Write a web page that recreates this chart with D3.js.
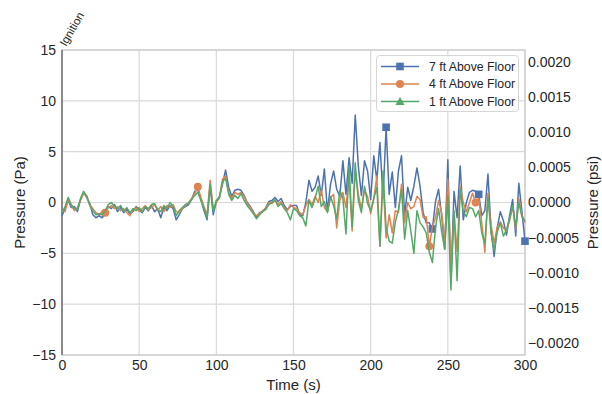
<!DOCTYPE html>
<html>
<head>
<meta charset="utf-8">
<script src="https://cdn.jsdelivr.net/npm/d3@7"></script>
<style>
  html, body { margin: 0; padding: 0; background: #fff; }
  svg text { font-family: "Liberation Sans", Arial, sans-serif; fill: #262626; }
</style>
</head>
<body>
<svg id="chart" width="602" height="394"></svg>
<script>
// Pressure records, sampled every 2 s from ignition (t = 0) to 300 s
const sampleStep = 2;

const seriesNames = ["7 ft Above Floor", "4 ft Above Floor", "1 ft Above Floor"];
const seriesColors = ["#4C72B0", "#DD8452", "#55A868"];
const seriesMarkers = ["square", "circle", "triangle"];
// times (s) of the samples that carry a marker, per series
const markerTimes7ft = [210, 240, 270, 300];
const markerTimes4ft = [28, 88, 238, 268];
const markerTimes1ft = [];

const pa7ft = [
  -1.3, -0.6, 0.2, -0.5, -0.4, -0.9, 0.3, 1.0, 0.5, -0.1,
  -1.2, -1.5, -1.3, -1.5, -1.1, -0.4, -0.6, -0.2, -0.9, -0.5,
  -1.0, -0.7, -1.1, -0.9, -0.4, -0.7, -1.0, -0.5, -0.8, -0.3,
  -0.9, -0.6, -1.5, -0.5, -0.8, -0.3, -0.6, -1.7, -1.2, -0.6,
  -0.4, -0.2, 0.3, 1.1, 1.3, 0.3, -0.8, -1.7, 1.6, -1.2,
  0.1, 0.6, 1.8, 3.2, 1.5, 0.6, 1.2, 1.3, 1.2, 0.7,
  0.0, -0.4, -0.9, -1.5, -1.0, -0.9, -0.5, 0.1, 0.2, 0.5,
  0.1, 0.4, -0.3, -0.7, -0.4, -0.3, -0.3, -1.2, -1.3, 0.0,
  2.2, 1.1, 1.5, 2.6, 0.7, 3.3, -0.9, 1.8, 3.1, 1.3,
  0.6, 4.1, 0.8, 4.4, 1.9, 8.6, 3.6, 0.7, 4.1, 3.1,
  0.3, 4.6, 2.2, 5.9, 0.4, 7.4, 0.8, 3.0, -0.5, 3.1,
  4.6, -1.3, 1.5, 0.2, 1.6, 3.4, 1.6, -1.0, -2.0, -2.0,
  -2.6, 0.1, 1.3, -1.3, -4.6, 4.2, -7.9, 1.1, -1.5, 3.6,
  -1.7, 0.0, 1.0, 1.2, 1.1, 0.8, -1.3, -0.8, 2.8, -2.7,
  -5.3, -2.5, -0.9, -1.8, -3.2, -1.3, 0.3, -3.3, 1.9, -0.9,
  -3.8
];

const pa4ft = [
  -0.8, -0.9, 0.3, -0.3, -0.8, -0.5, 0.2, 0.9, 0.7, -0.2,
  -0.6, -1.0, -1.2, -0.9, -1.0, -0.5, -0.3, -0.6, -0.4, -0.8,
  -0.6, -1.0, -1.3, -0.7, -0.5, -0.9, -0.6, -0.3, -0.7, -0.5,
  -0.2, -0.8, -0.4, -0.9, -0.3, -0.5, -0.2, -0.9, -1.0, -0.6,
  -0.3, 0.0, 0.4, 0.9, 1.55, 0.5, -0.4, -1.2, 2.2, -0.6,
  0.0, 0.5, 2.3, 2.6, 1.0, 0.4, 1.0, 0.8, 1.0, 0.6,
  -0.1, -0.5, -1.0, -1.3, -1.1, -0.8, -0.6, 0.0, -0.1, 0.2,
  -0.2, 0.1, -0.5, -0.8, -0.2, -0.5, -0.6, -1.0, -1.2, -0.3,
  0.3, -0.2, 0.6, 0.0, 1.2, -0.5, -0.9, 0.5, 0.8, -2.5,
  0.2, 1.0, -0.5, 2.5, -2.8, 3.0, 0.8, -0.6, 1.2, 0.6,
  -1.1, 0.3, 2.6, -4.3, 2.2, -3.5, -1.2, -3.0, -0.8, -1.0,
  1.8, -2.0, 0.0, -0.6, -0.4, 0.6, 0.3, -1.5, -1.4, -4.3,
  -2.4, -1.5, 0.2, -1.0, -3.8, 2.3, -6.5, -1.0, -4.8, 1.6,
  0.0, -0.9, 0.0, 0.9, 0.0, 0.4, -2.0, -4.9, 0.9, -2.2,
  -4.0, -2.4, -1.9, -2.5, -2.8, -1.8, -0.4, -2.6, 0.4, -1.2,
  -2.0
];

const pa1ft = [
  -1.0, -0.4, 0.5, -0.2, -0.6, -0.7, 0.4, 1.1, 0.6, -0.3,
  -0.8, -1.2, -1.1, -1.2, -0.8, -0.2, 0.0, -0.4, -0.6, -0.3,
  -0.9, -0.5, -1.0, -0.6, -0.8, -0.5, -0.9, -0.4, -0.6, -0.2,
  -0.1, -0.7, -0.9, -0.3, -0.6, 0.0, -0.4, -1.3, -0.8, -0.5,
  -0.2, -0.1, 0.3, 0.7, 1.0, 0.2, -0.6, -1.5, 1.8, -0.9,
  0.2, 0.4, 2.0, 2.4, 0.8, 0.2, 0.7, 0.4, 0.9, 0.2,
  -0.3, -0.7, -1.1, -1.6, -1.2, -0.9, -0.7, -0.2, 0.0, 0.3,
  -0.4, -0.1, -0.6, -1.0, -1.7, -0.6, -0.8, -1.3, -1.5, -2.3,
  0.2, -0.5, 0.4, 1.6, -0.4, 0.1, -1.0, 0.6, -0.3, -1.6,
  1.2, 0.4, -3.1, 3.6, -2.4, 3.9, 0.2, -1.0, 1.6, -0.1,
  -0.8, 0.4, 1.5, -4.3, 3.1, -2.5, -3.8, -4.0, -1.9, -0.7,
  1.3, -3.6, -0.8, -2.8, -5.0, -0.8, -2.0, -2.4, -3.0, -4.9,
  -5.9, -2.5, -0.6, -2.9, -4.6, 0.6, -8.6, -0.8, -7.7, 1.3,
  -0.9, -1.4, -0.5, -0.6, -1.4, -0.8, -3.0, -4.0, 0.5, -3.0,
  -4.7, -2.9, -2.0, -3.3, -2.7, -1.6, -0.3, -2.4, 0.0, -1.4,
  -1.8
];

const xTicks = [0, 50, 100, 150, 200, 250, 300];
const yTicks = [-15, -10, -5, 0, 5, 10, 15];
const psiTicks = [-0.002, -0.0015, -0.001, -0.0005, 0, 0.0005, 0.001, 0.0015, 0.002];
const paToPsi = 0.000145038;

const seriesValues = [pa7ft, pa4ft, pa1ft];
const seriesMarkerTimes = [markerTimes7ft, markerTimes4ft, markerTimes1ft];

// ---- layout
const svg = d3.select("#chart");
const plotLeft = 62, plotRight = 525, plotTop = 50, plotBottom = 355;

const x = d3.scaleLinear().domain([0, 300]).range([plotLeft, plotRight]);
const y = d3.scaleLinear().domain([-15, 15]).range([plotBottom, plotTop]);
const yPsi = d3.scaleLinear().domain([-15 * paToPsi, 15 * paToPsi]).range([plotBottom, plotTop]);

// ---- grid
const grid = svg.append("g");
grid.selectAll("line.gx").data(xTicks).join("line")
  .attr("x1", d => x(d)).attr("x2", d => x(d))
  .attr("y1", plotTop).attr("y2", plotBottom)
  .attr("stroke", "#d9d9d9").attr("stroke-width", 1.2);
grid.selectAll("line.gy").data(yTicks).join("line")
  .attr("x1", plotLeft).attr("x2", plotRight)
  .attr("y1", d => y(d)).attr("y2", d => y(d))
  .attr("stroke", "#d9d9d9").attr("stroke-width", 1.2);

// frame
svg.append("rect")
  .attr("x", plotLeft).attr("y", plotTop)
  .attr("width", plotRight - plotLeft).attr("height", plotBottom - plotTop)
  .attr("fill", "none").attr("stroke", "#cccccc").attr("stroke-width", 1.3);

// ---- axes (no tick marks, labels only)
const styleTicks = g => g.selectAll("text").attr("font-size", 14).attr("fill", "#262626")
  .style("font-family", "Liberation Sans, Arial, sans-serif");

const xAxis = d3.axisBottom(x).tickValues(xTicks).tickSize(0).tickPadding(5);
svg.append("g").attr("transform", `translate(0,${plotBottom})`).call(xAxis)
  .call(g => g.select(".domain").remove())
  .call(styleTicks);

const yAxis = d3.axisLeft(y).tickValues(yTicks).tickSize(0).tickPadding(6).tickFormat(d3.format(""));
svg.append("g").attr("transform", `translate(${plotLeft},0)`).call(yAxis)
  .call(g => g.select(".domain").remove())
  .call(styleTicks);

const yAxisRight = d3.axisRight(yPsi).tickValues(psiTicks).tickSize(0).tickPadding(3)
  .tickFormat(d3.format(".4f"));
svg.append("g").attr("transform", `translate(${plotRight},0)`).call(yAxisRight)
  .call(g => g.select(".domain").remove())
  .call(styleTicks);

// axis titles
svg.append("text").attr("x", (plotLeft + plotRight) / 2).attr("y", 390)
  .attr("text-anchor", "middle").attr("font-size", 15).text("Time (s)");
svg.append("text")
  .attr("transform", `translate(25,${(plotTop + plotBottom) / 2}) rotate(-90)`)
  .attr("text-anchor", "middle").attr("font-size", 15).text("Pressure (Pa)");
svg.append("text")
  .attr("transform", `translate(598,${(plotTop + plotBottom) / 2}) rotate(-90)`)
  .attr("text-anchor", "middle").attr("font-size", 15).text("Pressure (psi)");

// ---- ignition marker
svg.append("line")
  .attr("x1", x(0)).attr("x2", x(0)).attr("y1", plotTop).attr("y2", plotBottom)
  .attr("stroke", "#8a8a8a").attr("stroke-width", 2);
svg.append("text")
  .attr("transform", `translate(${x(0) + 4},${plotTop - 3}) rotate(-60)`)
  .attr("font-size", 11.5).text("Ignition");

// ---- series
function drawMarker(g, kind, cx, cy, color) {
  if (kind === "square") {
    g.append("rect").attr("x", cx - 3.8).attr("y", cy - 3.8)
      .attr("width", 7.6).attr("height", 7.6).attr("fill", color);
  } else if (kind === "circle") {
    g.append("circle").attr("cx", cx).attr("cy", cy).attr("r", 4).attr("fill", color);
  } else {
    const s = 4.6;
    g.append("path")
      .attr("d", `M${cx},${cy - s} L${cx + s},${cy + s * 0.75} L${cx - s},${cy + s * 0.75} Z`)
      .attr("fill", color);
  }
}

const line = d3.line().x(d => x(d.t)).y(d => y(d.v));

seriesValues.forEach((vals, k) => {
  const pts = vals.map((v, i) => ({ t: i * sampleStep, v }));
  const g = svg.append("g");
  g.append("path").datum(pts).attr("d", line)
    .attr("fill", "none").attr("stroke", seriesColors[k])
    .attr("stroke-width", 1.5).attr("stroke-linejoin", "round");
  pts.filter(p => seriesMarkerTimes[k].includes(p.t))
    .forEach(p => drawMarker(g, seriesMarkers[k], x(p.t), y(p.v), seriesColors[k]));
});

// ---- legend
const lg = svg.append("g");
lg.append("rect").attr("x", 376.5).attr("y", 55.5).attr("width", 142).attr("height", 56)
  .attr("rx", 3).attr("fill", "rgba(255,255,255,0.8)").attr("stroke", "#d6d6d6");
seriesNames.forEach((name, k) => {
  const ry = 66.5 + k * 17.5;
  lg.append("line").attr("x1", 381).attr("x2", 419).attr("y1", ry).attr("y2", ry)
    .attr("stroke", seriesColors[k]).attr("stroke-width", 1.5);
  drawMarker(lg, seriesMarkers[k], 400, ry, seriesColors[k]);
  lg.append("text").attr("x", 429).attr("y", ry + 4.3).attr("font-size", 12.3).text(name);
});
</script>
</body>
</html>
